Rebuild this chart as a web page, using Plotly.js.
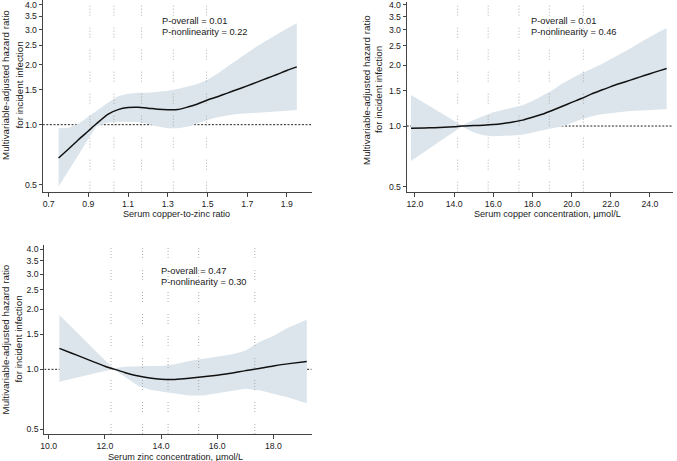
<!DOCTYPE html>
<html>
<head>
<meta charset="utf-8">
<script src="https://cdn.plot.ly/plotly-3.0.1.min.js"></script>
<style>html,body{margin:0;padding:0;background:#fff;}#chart{width:677px;height:461px;}</style>
</head>
<body>
<div id="chart"></div>
<script>
// ---------- Data ----------
// Panel 1: serum copper-to-zinc ratio
const p1X    = [0.75,0.80,0.85,0.90,0.94,1.00,1.05,1.10,1.15,1.20,1.25,1.30,1.35,1.40,1.45,1.50,1.55,1.60,1.65,1.70,1.75,1.80,1.85,1.90,1.95];
const p1HR   = [0.68,0.755,0.84,0.93,1.01,1.13,1.19,1.218,1.222,1.21,1.195,1.188,1.19,1.225,1.27,1.33,1.38,1.44,1.50,1.565,1.635,1.71,1.785,1.87,1.95];
const p1Up   = [0.96,0.965,1.01,1.09,1.17,1.29,1.39,1.43,1.445,1.447,1.46,1.48,1.51,1.55,1.60,1.68,1.80,1.96,2.12,2.30,2.47,2.65,2.85,3.04,3.23];
const p1Lo   = [0.49,0.59,0.707,0.848,0.98,1.025,1.035,1.035,1.03,1.01,0.98,0.96,0.96,0.975,1.01,1.055,1.09,1.11,1.13,1.143,1.152,1.16,1.167,1.175,1.185];
const p1Knots = [0.908,1.029,1.168,1.328,1.495];
const p1XTicks = [0.7,0.9,1.1,1.3,1.5,1.7,1.9];
const p1Text = ["P-overall = 0.01","P-nonlinearity = 0.22"];

// Panel 2: serum copper concentration
const p2X    = [11.8,12.5,13.0,13.5,14.0,14.4,15.0,15.5,16.0,16.5,17.0,17.5,18.0,18.5,19.0,19.5,20.0,20.5,21.0,21.5,22.0,22.5,23.0,23.5,24.0,24.5,24.85];
const p2HR   = [0.975,0.978,0.982,0.987,0.993,1.0,1.005,1.01,1.017,1.03,1.048,1.07,1.105,1.145,1.195,1.25,1.31,1.37,1.44,1.505,1.57,1.63,1.69,1.755,1.82,1.885,1.93];
const p2Up   = [1.426,1.296,1.211,1.131,1.056,1.005,1.07,1.12,1.17,1.2,1.23,1.27,1.33,1.41,1.50,1.62,1.72,1.83,1.92,2.02,2.15,2.28,2.43,2.6,2.78,2.95,3.06];
const p2Lo   = [0.67,0.746,0.806,0.87,0.94,0.995,0.93,0.9,0.89,0.893,0.898,0.905,0.93,0.95,0.975,0.995,1.035,1.08,1.115,1.145,1.16,1.175,1.188,1.197,1.203,1.208,1.21];
const p2Knots = [14.18,15.74,17.31,18.86,20.6];
const p2XTicks = [12,14,16,18,20,22,24];
const p2Text = ["P-overall = 0.01","P-nonlinearity = 0.46"];

// Panel 3: serum zinc concentration
const p3X    = [10.38,10.8,11.2,11.6,12.0,12.3,12.7,13.2,13.6,14.0,14.5,15.0,15.5,16.0,16.5,17.0,17.5,18.0,18.5,19.19];
const p3HR   = [1.274,1.208,1.148,1.09,1.037,1.005,0.965,0.925,0.905,0.893,0.89,0.902,0.918,0.935,0.955,0.985,1.01,1.04,1.065,1.095];
const p3Up   = [1.873,1.636,1.439,1.265,1.113,1.01,1.03,1.04,1.04,1.04,1.06,1.1,1.13,1.16,1.185,1.24,1.37,1.47,1.61,1.77];
const p3Lo   = [0.867,0.895,0.922,0.951,0.98,1.0,0.92,0.825,0.79,0.775,0.76,0.74,0.74,0.765,0.78,0.8,0.785,0.755,0.725,0.675];
const p3Knots = [12.22,13.34,14.25,15.34,17.34];
const p3XTicks = [10,12,14,16,18];
const p3Text = ["P-overall = 0.47","P-nonlinearity = 0.30"];

const yTickVals = [0.5,1.0,1.5,2.0,2.5,3.0,3.5,4.0];
const refHR = [1];
const yTitleLines = ["Multivariable-adjusted hazard ratio","for incident infection"];
const xTitles = ["Serum copper-to-zinc ratio","Serum copper concentration, \u00b5mol/L","Serum zinc concentration, \u00b5mol/L"];

// ---------- Layout settings ----------
const W = 677, H = 461;
const FONT = "Liberation Sans, Arial, sans-serif";
const BAND = "#dce5eb";
const panels = [
  {x:p1X, hr:p1HR, up:p1Up, lo:p1Lo, knots:p1Knots, xt:p1XTicks, txt:p1Text, xr:[0.67,2.025], yr:[0.461,4.22],
   dom:{x:[42.7,311.7], y:[0,191.7]}, ptxt:{x:160,y:[21,32]}, ytl:{x:[5,18.5], y:85}, xtl:{x:176.7,y:213.5}},
  {x:p2X, hr:p2HR, up:p2Up, lo:p2Lo, knots:p2Knots, xt:p2XTicks, txt:p2Text, xr:[11.58,25.16], yr:[0.472,4.13],
   dom:{x:[406.7,672.7], y:[2,191.7]}, ptxt:{x:529.3,y:[21,32]}, ytl:{x:[367,379], y:90}, xtl:{x:547.8,y:214.5}},
  {x:p3X, hr:p3HR, up:p3Up, lo:p3Lo, knots:p3Knots, xt:p3XTicks, txt:p3Text, xr:[9.843,19.366], yr:[0.474,4.2],
   dom:{x:[44.3,311.7], y:[245,434]}, ptxt:{x:159.3,y:[271.3,282.3]}, ytl:{x:[5,18], y:339.5}, xtl:{x:175.7,y:456.5}}
];

const traces = [];
const layout = {
  width: W, height: H,
  margin: {l:0, r:0, t:0, b:0},
  paper_bgcolor: "#ffffff", plot_bgcolor: "rgba(0,0,0,0)",
  showlegend: false,
  font: {family: FONT, color: "#1a1a1a"},
  annotations: []
};

panels.forEach((p, i) => {
  const n = i === 0 ? "" : String(i + 1);
  const xa = "x" + n, ya = "y" + n;
  // reference line at HR = 1 (below the band)
  traces.push({x: p.xr, y: [refHR[0], refHR[0]], xaxis: xa, yaxis: ya, mode: "lines",
    line: {color: "#222", width: 1, dash: "2px,1.6px"}, hoverinfo: "skip"});
  // confidence band
  traces.push({x: p.x.concat(p.x.slice().reverse()), y: p.up.concat(p.lo.slice().reverse()),
    xaxis: xa, yaxis: ya, mode: "lines", fill: "toself", fillcolor: BAND,
    line: {width: 0, color: BAND}, hoverinfo: "skip"});
  // knot lines
  p.knots.forEach(k => {
    traces.push({x: [k, k], y: p.yr, xaxis: xa, yaxis: ya, mode: "lines",
      line: {color: "#9a9a9a", width: 0.8, dash: "1px,2px,1px,2px,1px,2px,1px,12px"}, hoverinfo: "skip"});
  });
  // spline
  traces.push({x: p.x, y: p.hr, xaxis: xa, yaxis: ya, mode: "lines", line: {color: "#111", width: 1.5, shape: "spline", smoothing: 0.6}, hoverinfo: "skip"});

  const common = {showline: true, linecolor: "#444", linewidth: 1, ticks: "outside", tickcolor: "#444",
    tickwidth: 1, showgrid: false, zeroline: false, tickmode: "array", ticklabeloverflow: "allow",
    tickfont: {family: FONT, size: 8.7, color: "#1a1a1a"}};
  layout["xaxis" + n] = Object.assign({}, common, {
    domain: [p.dom.x[0] / W, p.dom.x[1] / W], range: p.xr, anchor: ya,
    tickvals: p.xt, ticktext: p.xt.map(v => v.toFixed(1)), ticklen: 4});
  layout["yaxis" + n] = Object.assign({}, common, {
    domain: [1 - p.dom.y[1] / H, 1 - p.dom.y[0] / H], type: "log",
    range: [Math.log10(p.yr[0]), Math.log10(p.yr[1])], anchor: xa,
    tickvals: yTickVals, ticktext: yTickVals.map(v => v.toFixed(1)), ticklen: 3});

  // P-value text
  p.txt.forEach((t, j) => layout.annotations.push({text: t, xref: "paper", yref: "paper",
    x: p.ptxt.x / W, y: 1 - p.ptxt.y[j] / H, xanchor: "left", yanchor: "middle", showarrow: false,
    font: {family: FONT, size: 9.3, color: "#1a1a1a"}}));
  // y title (two lines)
  yTitleLines.forEach((t, j) => layout.annotations.push({text: t, xref: "paper", yref: "paper",
    x: p.ytl.x[j] / W, y: 1 - p.ytl.y / H, xanchor: "center", yanchor: "middle", textangle: -90, showarrow: false,
    font: {family: FONT, size: 9.8, color: "#1a1a1a"}}));
  // x title
  layout.annotations.push({text: xTitles[i], xref: "paper", yref: "paper",
    x: p.xtl.x / W, y: 1 - p.xtl.y / H, xanchor: "center", yanchor: "middle", showarrow: false,
    font: {family: FONT, size: 9.1, color: "#1a1a1a"}});
});

Plotly.newPlot("chart", traces, layout, {staticPlot: true, displayModeBar: false});
</script>
</body>
</html>
